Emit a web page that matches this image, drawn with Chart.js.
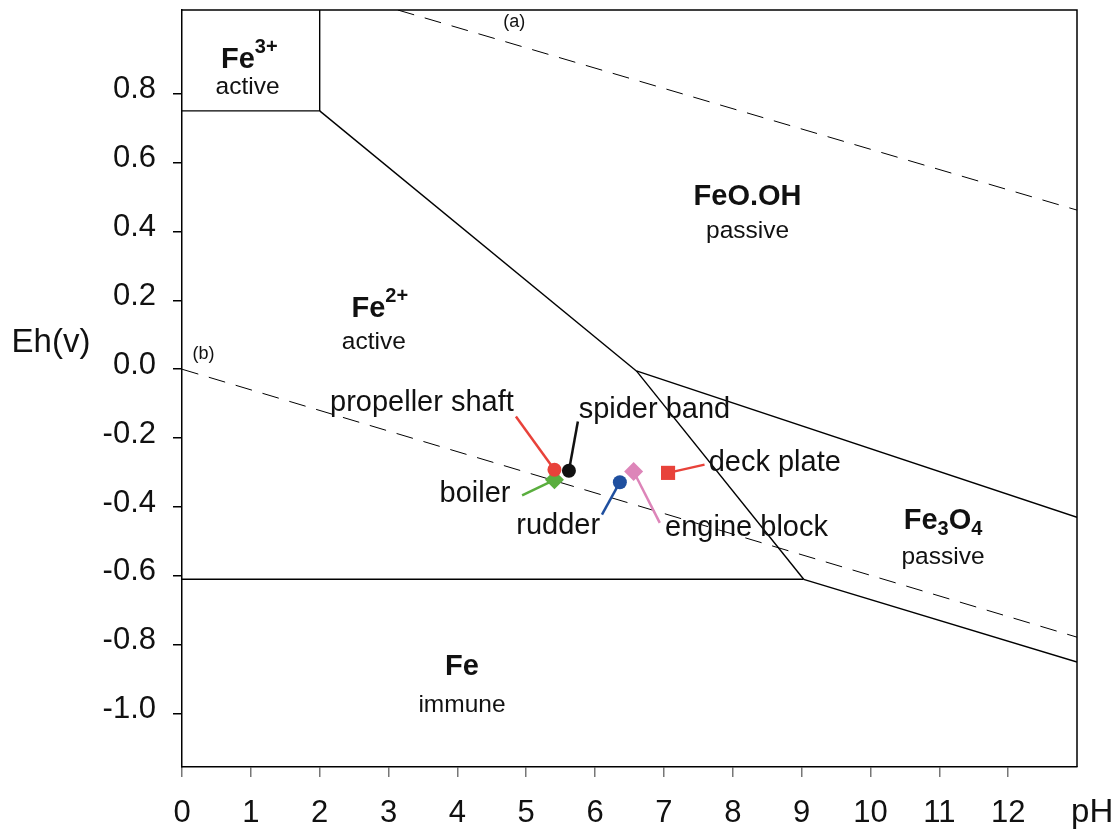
<!DOCTYPE html>
<html>
<head>
<meta charset="utf-8">
<script src="https://cdn.jsdelivr.net/npm/chart.js@4"></script>
<style>
  body { margin: 0; background: #fff; }
  #wrap { width: 1118px; height: 830px; position: relative; }
</style>
</head>
<body>
<div id="wrap"><canvas id="pourbaix"></canvas></div>
<script>
// axis ticks
const phTicks = [0, 1, 2, 3, 4, 5, 6, 7, 8, 9, 10, 11, 12];
const ehTicks = [-1.0, -0.8, -0.6, -0.4, -0.2, 0.0, 0.2, 0.4, 0.6, 0.8];

// stability field boundaries (pH, Eh)
const fe3Fe2 = [[0, 0.75], [2, 0.75]];
const fe3FeOOH = [[2, 1.043], [2, 0.75]];
const fe2FeOOH = [[2, 0.75], [6.6, -0.005]];
const fe2Fe3O4 = [[6.6, -0.005], [9.03, -0.61]];
const feoohFe3O4 = [[6.6, -0.005], [13, -0.43]];
const feFe2 = [[0, -0.61], [9.03, -0.61]];
const feFe3O4 = [[9.03, -0.61], [13, -0.85]];
// water stability lines
const waterA = [[3.135, 1.043], [13, 0.462]];
const waterB = [[0, 0], [13, -0.778]];

// samples
const sampleNames = ["propeller shaft", "spider band", "boiler", "rudder", "engine block", "deck plate"];
const samplePH = [5.41, 5.62, 5.41, 6.36, 6.56, 7.06];
const sampleEh = [-0.292, -0.295, -0.321, -0.328, -0.297, -0.301];
// where each name sits and where its leader line starts
const labelPH = [3.485, 6.862, 4.256, 5.464, 8.20, 8.61];
const labelEh = [-0.099, -0.117, -0.363, -0.456, -0.462, -0.273];
const leaderPH = [4.85, 5.75, 4.94, 6.10, 6.94, 7.59];
const leaderEh = [-0.137, -0.152, -0.366, -0.422, -0.446, -0.277];

const sampleColors = ["#e8423a", "#111111", "#5aae3e", "#1f4f9f", "#dd85b9", "#e8423a"];
const sampleShapes = ["circle", "circle", "rectRot", "circle", "rectRot", "rect"];
const sampleRadius = [7, 7, 9.5, 7, 9.5, 10];

// field labels: [parts, pH, Eh]
const fieldNames = [
  [[["Fe", "b"], ["3+", "sup"]], 0.978, 0.898],
  [[["active", "n"]], 0.952, 0.819],
  [[["FeO.OH", "b"]], 8.215, 0.500],
  [[["passive", "n"]], 8.215, 0.402],
  [[["Fe", "b"], ["2+", "sup"]], 2.873, 0.176],
  [[["active", "n"]], 2.786, 0.077],
  [[["Fe", "b"], ["3", "sub"], ["O", "b"], ["4", "sub"]], 11.054, -0.442],
  [[["passive", "n"]], 11.054, -0.546],
  [[["Fe", "b"]], 4.067, -0.865],
  [[["immune", "n"]], 4.067, -0.975],
  [[["(a)", "s"]], 4.825, 1.008],
  [[["(b)", "s"]], 0.311, 0.043]
];

const FONT = "'Liberation Sans', Arial, sans-serif";

function pts(arr) {
  return arr.map(p => ({ x: p[0], y: p[1] }));
}

function boundary(arr, dashed) {
  return {
    data: pts(arr),
    showLine: true,
    borderColor: "#000",
    borderWidth: dashed ? 1 : 1.4,
    borderDash: dashed ? [17, 11] : [],
    pointRadius: 0,
    order: 3
  };
}

const datasets = [];
sampleNames.forEach((name, i) => {
  datasets.push({
    data: [{ x: samplePH[i], y: sampleEh[i] }],
    pointStyle: sampleShapes[i],
    pointRadius: sampleRadius[i],
    backgroundColor: sampleColors[i],
    borderColor: sampleColors[i],
    borderWidth: 0,
    order: 1
  });
  datasets.push({
    data: [{ x: leaderPH[i], y: leaderEh[i] }, { x: samplePH[i], y: sampleEh[i] }],
    showLine: true,
    borderColor: sampleColors[i],
    borderWidth: 2.5,
    pointRadius: 0,
    order: 2
  });
});
[fe3Fe2, fe3FeOOH, fe2FeOOH, fe2Fe3O4, feoohFe3O4, feFe2, feFe3O4].forEach(b => datasets.push(boundary(b, false)));
datasets.push(boundary(waterA, true));
datasets.push(boundary(waterB, true));

function drawRich(ctx, parts, cx, cy) {
  const fonts = {
    b: "bold 29px " + FONT,
    n: "24.5px " + FONT,
    s: "18px " + FONT,
    sup: "bold 20px " + FONT,
    sub: "bold 20px " + FONT
  };
  const shift = { b: 0, n: 0, s: 0, sup: -12, sub: 8 };
  let total = 0;
  parts.forEach(p => { ctx.font = fonts[p[1]]; total += ctx.measureText(p[0]).width; });
  let x = cx - total / 2;
  ctx.textAlign = "left";
  ctx.textBaseline = "middle";
  parts.forEach(p => {
    ctx.font = fonts[p[1]];
    ctx.fillText(p[0], x, cy + shift[p[1]]);
    x += ctx.measureText(p[0]).width;
  });
}

const labelPlugin = {
  id: "labels",
  afterDatasetsDraw(chart) {
    const { ctx, chartArea, scales: { x, y } } = chart;
    ctx.save();
    // frame
    ctx.strokeStyle = "#000";
    ctx.lineWidth = 1.5;
    ctx.beginPath();
    ctx.moveTo(chartArea.left, chartArea.top);
    ctx.lineTo(chartArea.right, chartArea.top);
    ctx.lineTo(chartArea.right, chartArea.bottom);
    ctx.stroke();

    ctx.fillStyle = "#111";
    fieldNames.forEach(f => drawRich(ctx, f[0], x.getPixelForValue(f[1]), y.getPixelForValue(f[2])));

    ctx.font = "29px " + FONT;
    ctx.textAlign = "center";
    ctx.textBaseline = "middle";
    sampleNames.forEach((name, i) => {
      ctx.fillText(name, x.getPixelForValue(labelPH[i]), y.getPixelForValue(labelEh[i]));
    });

    // axis titles
    ctx.font = "33px " + FONT;
    ctx.fillText("Eh(v)", 51, y.getPixelForValue(0.075));
    ctx.fillText("pH", x.getPixelForValue(13.22), chartArea.bottom + 46);
    ctx.restore();
  }
};

new Chart(document.getElementById("pourbaix"), {
  type: "scatter",
  data: { datasets: datasets },
  options: {
    responsive: true,
    maintainAspectRatio: false,
    animation: false,
    layout: { padding: { top: 8, right: 41, left: 0, bottom: 0 } },
    plugins: { legend: { display: false }, tooltip: { enabled: false } },
    scales: {
      x: {
        type: "linear",
        min: 0,
        max: 13,
        afterBuildTicks: s => { s.ticks = phTicks.map(v => ({ value: v })); },
        afterFit: s => { s.height = 63; s.paddingLeft = 0; s.paddingRight = 0; },
        grid: { drawOnChartArea: false, drawTicks: true, tickLength: 10, color: "#777", lineWidth: 1.5 },
        border: { display: true, color: "#000", width: 1.5 },
        ticks: {
          padding: 18,
          color: "#111",
          maxRotation: 0,
          autoSkip: false,
          font: { family: FONT, size: 31 },
          callback: v => String(v)
        }
      },
      y: {
        type: "linear",
        min: -1.155,
        max: 1.043,
        afterBuildTicks: s => { s.ticks = ehTicks.map(v => ({ value: v })); },
        afterFit: s => { s.width = 182; s.paddingTop = 0; s.paddingBottom = 0; },
        grid: { drawOnChartArea: false, drawTicks: true, tickLength: 9, color: "#000", lineWidth: 1.5 },
        border: { display: true, color: "#000", width: 1.5 },
        ticks: {
          padding: 17,
          color: "#111",
          labelOffset: -4,
          autoSkip: false,
          font: { family: FONT, size: 31 },
          callback: v => v.toFixed(1)
        }
      }
    }
  },
  plugins: [labelPlugin]
});
</script>
</body>
</html>
